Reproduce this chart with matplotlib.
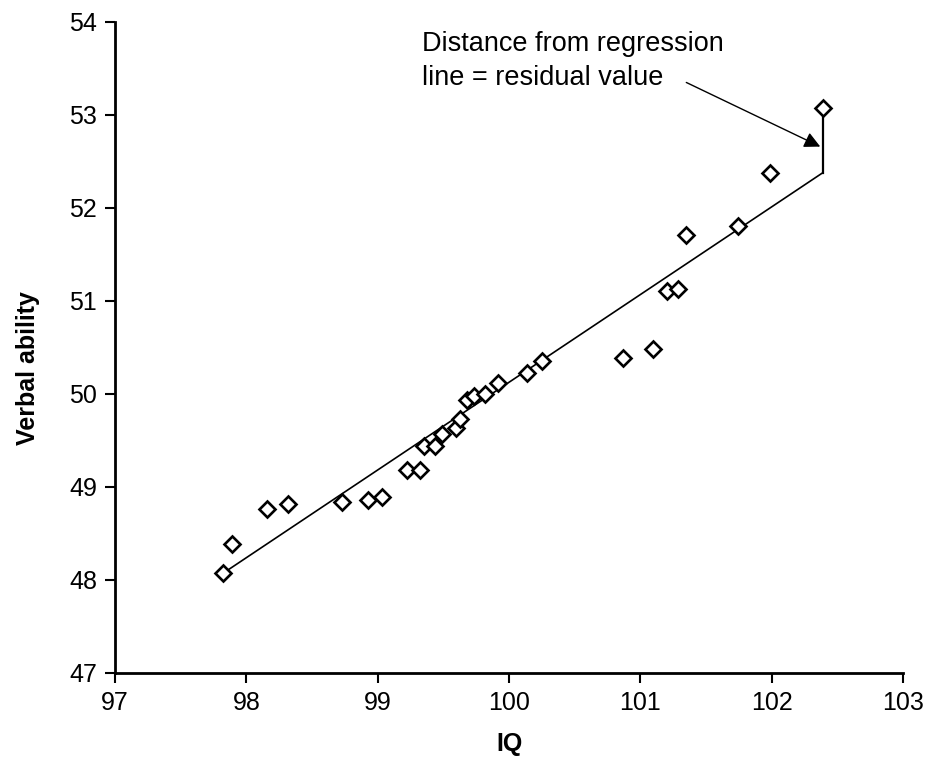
import matplotlib
matplotlib.use("Agg")
import matplotlib.pyplot as plt
import numpy as np

plt.rcParams['font.family'] = ['Liberation Sans', 'DejaVu Sans']

iq = [97.82, 97.89, 98.16, 98.32, 98.73, 98.93, 99.03, 99.22, 99.32, 99.35,
      99.44, 99.49, 99.60, 99.63, 99.68, 99.73, 99.82, 99.92, 100.14, 100.25,
      100.87, 101.10, 101.20, 101.29, 101.35, 101.74, 101.99, 102.39]
verbal = [48.07, 48.39, 48.76, 48.82, 48.84, 48.86, 48.89, 49.18, 49.18, 49.44,
          49.44, 49.57, 49.63, 49.73, 49.94, 49.98, 50.00, 50.12, 50.23, 50.35,
          50.39, 50.48, 51.11, 51.13, 51.71, 51.81, 52.38, 53.07]

line_x = [97.82, 102.39]
line_y = [48.07, 52.38]

x_ticks = [97, 98, 99, 100, 101, 102, 103]
y_ticks = [47, 48, 49, 50, 51, 52, 53, 54]

annot_text = "Distance from regression\nline = residual value"

fig = plt.figure(figsize=(9.29, 7.59), dpi=100)
ax = fig.add_axes([115/929, 1-673/759, (903-115)/929, (673-22)/759])

ax.plot(line_x, line_y, color='black', lw=1.2, zorder=2)
# residual segment for last point
ax.plot([iq[-1], iq[-1]], [line_y[-1], verbal[-1]], color='black', lw=1.6, zorder=2)
ax.plot(iq, verbal, linestyle='none', marker='D', markersize=8,
        markerfacecolor='white', markeredgecolor='black', markeredgewidth=1.9, zorder=3)

ax.text(99.34, 53.90, annot_text, fontsize=19.5, ha='left', va='top', linespacing=1.4)
ax.annotate('', xy=(102.37, 52.66), xytext=(101.35, 53.35),
            arrowprops=dict(arrowstyle='-|>', color='black', lw=1.0,
                            mutation_scale=24, shrinkA=0, shrinkB=0))

ax.set_xlim(97, 103)
ax.set_ylim(47, 54)
ax.set_xticks(x_ticks)
ax.set_yticks(y_ticks)
ax.tick_params(direction='out', length=7, width=1.5, labelsize=18, pad=6)
for s in ['top', 'right']:
    ax.spines[s].set_visible(False)
for s in ['left', 'bottom']:
    ax.spines[s].set_linewidth(2)

ax.set_xlabel('IQ', fontsize=18, fontweight='bold', labelpad=12)
ax.set_ylabel('Verbal ability', fontsize=18, fontweight='bold')
ax.yaxis.set_label_coords(-0.095, 0.468)

fig.savefig('out.png', dpi=100)
